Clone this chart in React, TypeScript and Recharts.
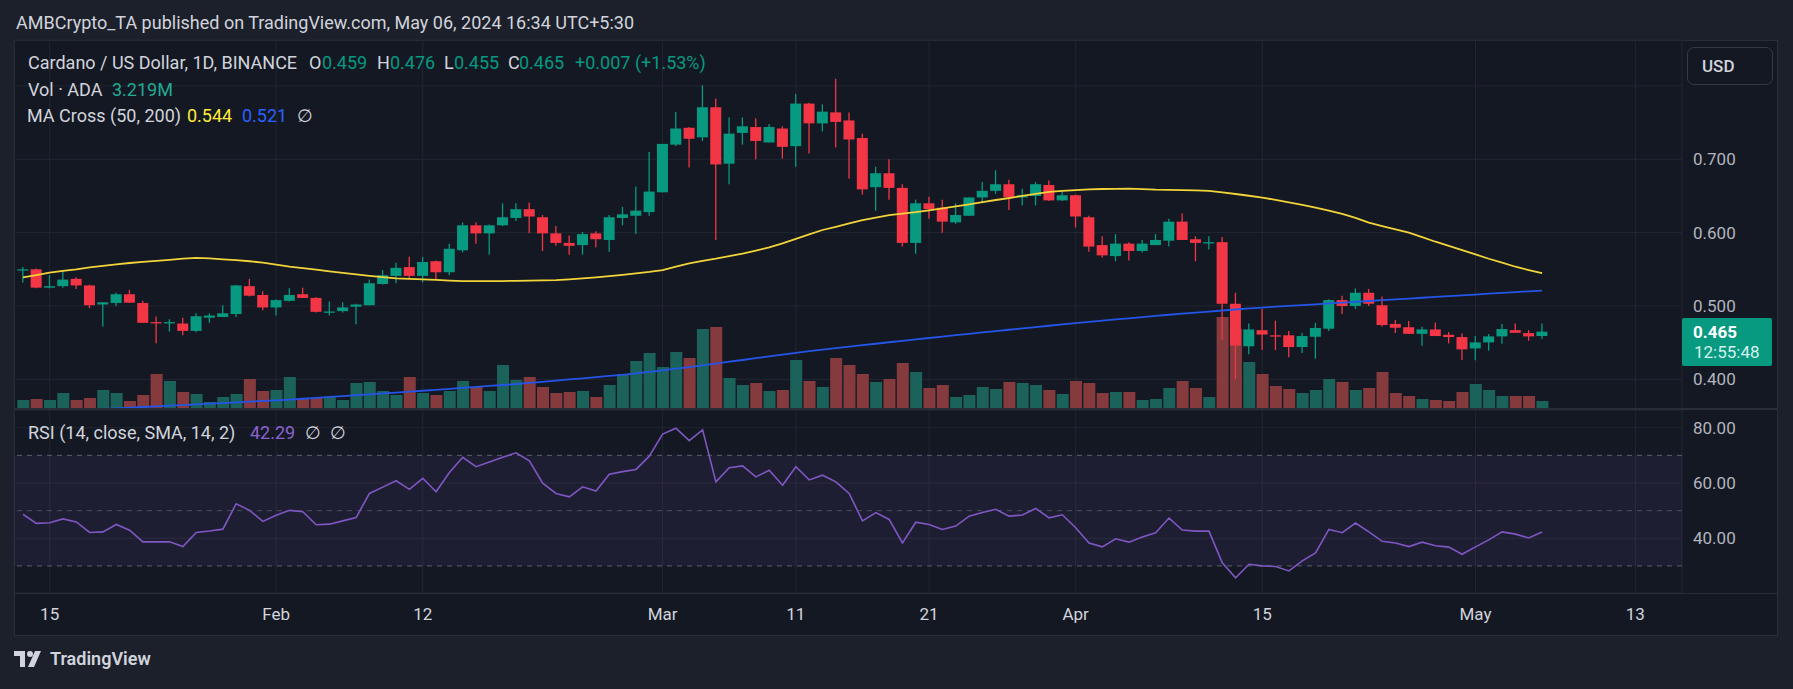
import React from "react";
import {
  ComposedChart,
  Bar,
  Line,
  Cell,
  XAxis,
  YAxis,
  CartesianGrid,
  ReferenceArea,
  ReferenceLine,
} from "recharts";

// ADA/USD daily, Jan 13 .. May 6 2024 (index 0 = Jan 13)
const opens = [
  0.549, 0.55, 0.525, 0.527, 0.537, 0.528, 0.502, 0.504, 0.516, 0.504,
  0.478, 0.477, 0.476, 0.466, 0.484, 0.485, 0.489, 0.527, 0.515, 0.498,
  0.507, 0.516, 0.511, 0.4915, 0.493, 0.499, 0.501, 0.53, 0.541, 0.553,
  0.541, 0.561, 0.546, 0.576, 0.61, 0.599, 0.61, 0.62, 0.632, 0.621,
  0.599, 0.586, 0.583, 0.599, 0.59, 0.62, 0.623, 0.628, 0.655, 0.72,
  0.743, 0.73, 0.771, 0.694, 0.736, 0.744, 0.723, 0.742, 0.718, 0.776,
  0.749, 0.764, 0.753, 0.729, 0.662, 0.681, 0.661, 0.586, 0.64, 0.634,
  0.614, 0.623, 0.648, 0.657, 0.666, 0.648, 0.65, 0.665, 0.644, 0.651,
  0.621, 0.583, 0.568, 0.585, 0.575, 0.583, 0.589, 0.615, 0.591, 0.586,
  0.587, 0.503, 0.445, 0.467, 0.46, 0.46, 0.444, 0.458, 0.469, 0.508,
  0.5, 0.518, 0.501, 0.4755, 0.471, 0.462, 0.468, 0.4607, 0.4576, 0.4421,
  0.4503, 0.4585, 0.467, 0.463, 0.459,
];
const highs = [
  0.553, 0.551, 0.542, 0.549, 0.539, 0.529, 0.505, 0.518, 0.522, 0.507,
  0.4855, 0.482, 0.484, 0.49, 0.49, 0.501, 0.5285, 0.537, 0.52, 0.509,
  0.524, 0.525, 0.512, 0.506, 0.505, 0.503, 0.536, 0.549, 0.559, 0.567,
  0.567, 0.562, 0.585, 0.614, 0.614, 0.611, 0.64, 0.64, 0.641, 0.624,
  0.609, 0.596, 0.601, 0.602, 0.624, 0.635, 0.663, 0.71, 0.721, 0.7645,
  0.744, 0.801, 0.783, 0.757, 0.757, 0.756, 0.748, 0.745, 0.789, 0.777,
  0.775, 0.81, 0.764, 0.735, 0.69, 0.7, 0.666, 0.645, 0.649, 0.645,
  0.64, 0.648, 0.669, 0.685, 0.672, 0.66, 0.669, 0.671, 0.656, 0.652,
  0.623, 0.595, 0.598, 0.587, 0.59, 0.598, 0.619, 0.626, 0.595, 0.595,
  0.594, 0.518, 0.476, 0.496, 0.48, 0.466, 0.463, 0.477, 0.509, 0.514,
  0.524, 0.523, 0.513, 0.4808, 0.4794, 0.4716, 0.4776, 0.4644, 0.4626, 0.459,
  0.4617, 0.4753, 0.4762, 0.467, 0.476,
];
const lows = [
  0.532, 0.524, 0.524, 0.525, 0.523, 0.497, 0.472, 0.5, 0.504, 0.477,
  0.449, 0.465, 0.46, 0.464, 0.477, 0.485, 0.485, 0.513, 0.494, 0.487,
  0.506, 0.511, 0.491, 0.487, 0.491, 0.475, 0.501, 0.529, 0.531, 0.537,
  0.532, 0.536, 0.542, 0.573, 0.585, 0.57, 0.609, 0.616, 0.599, 0.575,
  0.582, 0.57, 0.57, 0.58, 0.574, 0.61, 0.598, 0.623, 0.655, 0.718,
  0.689, 0.725, 0.59, 0.666, 0.72, 0.7, 0.723, 0.701, 0.69, 0.708,
  0.738, 0.716, 0.674, 0.652, 0.63, 0.645, 0.581, 0.571, 0.619, 0.6,
  0.612, 0.623, 0.64, 0.653, 0.631, 0.637, 0.637, 0.643, 0.643, 0.607,
  0.574, 0.566, 0.561, 0.562, 0.573, 0.583, 0.581, 0.59, 0.561, 0.577,
  0.454, 0.4, 0.434, 0.44, 0.44, 0.43, 0.436, 0.428, 0.466, 0.489,
  0.496, 0.5, 0.472, 0.463, 0.462, 0.4457, 0.459, 0.449, 0.4262, 0.426,
  0.439, 0.4485, 0.4634, 0.4525, 0.455,
];
const closes = [
  0.55, 0.525, 0.527, 0.536, 0.528, 0.501, 0.505, 0.516, 0.5045, 0.477,
  0.4775, 0.478, 0.466, 0.486, 0.487, 0.49, 0.528, 0.514, 0.498, 0.508,
  0.515, 0.511, 0.492, 0.4925, 0.498, 0.502, 0.531, 0.542, 0.552, 0.541,
  0.56, 0.546, 0.578, 0.61, 0.599, 0.61, 0.621, 0.632, 0.622, 0.599,
  0.586, 0.582, 0.598, 0.591, 0.621, 0.625, 0.63, 0.656, 0.721, 0.742,
  0.728, 0.771, 0.693, 0.735, 0.745, 0.725, 0.744, 0.717, 0.776, 0.749,
  0.765, 0.751, 0.727, 0.659, 0.681, 0.661, 0.586, 0.64, 0.632, 0.615,
  0.624, 0.648, 0.657, 0.666, 0.648, 0.651, 0.666, 0.644, 0.651, 0.622,
  0.581, 0.569, 0.585, 0.575, 0.585, 0.59, 0.615, 0.59, 0.586, 0.587,
  0.503, 0.446, 0.468, 0.461, 0.459, 0.444, 0.459, 0.47, 0.508, 0.5,
  0.518, 0.503, 0.474, 0.4703, 0.462, 0.468, 0.459, 0.4576, 0.4408, 0.4503,
  0.4585, 0.4685, 0.4634, 0.4585, 0.465,
];
// volume, millions of ADA
const volumes = [
  3.6, 4.0, 3.6, 6.4, 3.6, 4.4, 7.6, 6.4, 3.2, 5.6,
  14.0, 11.2, 6.8, 6.0, 2.8, 4.8, 6.0, 12.0, 7.2, 7.6,
  12.8, 4.0, 4.4, 4.8, 3.6, 10.4, 10.8, 7.2, 5.6, 12.8,
  6.4, 5.6, 7.2, 11.2, 8.8, 7.2, 17.6, 11.6, 12.8, 8.8,
  6.4, 6.8, 7.2, 4.8, 9.6, 14.0, 19.2, 22.4, 16.8, 22.8,
  20.4, 32.0, 32.8, 12.4, 9.6, 10.4, 7.2, 7.6, 19.6, 11.2,
  8.8, 20.4, 17.6, 14.0, 10.8, 12.0, 18.4, 14.8, 8.4, 9.6,
  4.8, 5.6, 8.8, 8.0, 10.8, 10.4, 9.6, 7.6, 6.0, 11.2,
  10.4, 6.4, 6.8, 6.8, 3.6, 4.0, 8.4, 11.2, 8.4, 4.8,
  36.8, 32.0, 18.8, 14.0, 9.2, 8.0, 6.4, 7.6, 12.0, 10.8,
  7.6, 8.4, 14.8, 6.4, 5.2, 4.0, 3.6, 3.2, 6.8, 10.0,
  7.6, 5.2, 5.2, 5.2, 3.219,
];
const ma50 = [
  0.539, 0.542, 0.5455, 0.548, 0.55, 0.5527, 0.5548, 0.5568, 0.5586, 0.56,
  0.5614, 0.563, 0.5645, 0.5655, 0.565, 0.5636, 0.5625, 0.561, 0.559, 0.5564,
  0.5536, 0.5515, 0.5495, 0.5472, 0.545, 0.543, 0.541, 0.5392, 0.5377, 0.537,
  0.5364, 0.5355, 0.5347, 0.534, 0.5338, 0.5338, 0.534, 0.5343, 0.5347, 0.535,
  0.5352, 0.5362, 0.5375, 0.539, 0.5408, 0.5425, 0.5445, 0.5465, 0.549, 0.5535,
  0.558, 0.5615, 0.5645, 0.568, 0.5714, 0.5755, 0.58, 0.5855, 0.5914, 0.5975,
  0.6036, 0.608, 0.6125, 0.617, 0.6205, 0.624, 0.626, 0.628, 0.6305, 0.633,
  0.6358, 0.6386, 0.6415, 0.6445, 0.6472, 0.65, 0.6528, 0.6555, 0.657, 0.658,
  0.659, 0.6595, 0.6598, 0.66, 0.6594, 0.6586, 0.6583, 0.658, 0.6576, 0.657,
  0.655, 0.6527, 0.6503, 0.6477, 0.6447, 0.6414, 0.6378, 0.634, 0.63, 0.6255,
  0.62, 0.6136, 0.609, 0.6045, 0.6, 0.5938, 0.5876, 0.582, 0.5763, 0.5703,
  0.5644, 0.559, 0.5535, 0.549, 0.5449,
];
const ma200 = [
  0.3547, 0.3555, 0.3563, 0.3571, 0.3579, 0.3587, 0.3595, 0.3604, 0.3613, 0.3622,
  0.3631, 0.364, 0.3649, 0.3658, 0.3667, 0.3676, 0.3685, 0.3695, 0.3705, 0.3714,
  0.3724, 0.3735, 0.3747, 0.3759, 0.3771, 0.3783, 0.3795, 0.3807, 0.3819, 0.3831,
  0.3844, 0.3857, 0.387, 0.3883, 0.3896, 0.3909, 0.3922, 0.3935, 0.395, 0.3966,
  0.3982, 0.3998, 0.4014, 0.403, 0.4046, 0.406, 0.408, 0.4101, 0.4123, 0.4145,
  0.4167, 0.419, 0.4215, 0.424, 0.4263, 0.4288, 0.4312, 0.4336, 0.436, 0.4384,
  0.4405, 0.4425, 0.4445, 0.4465, 0.4485, 0.4505, 0.4525, 0.4544, 0.4563, 0.4582,
  0.4601, 0.462, 0.4639, 0.4658, 0.4676, 0.4694, 0.4712, 0.473, 0.4748, 0.4766,
  0.4784, 0.48, 0.4816, 0.4832, 0.4848, 0.4864, 0.488, 0.4895, 0.491, 0.4924,
  0.4938, 0.4952, 0.4966, 0.4978, 0.499, 0.5001, 0.5012, 0.5023, 0.5035, 0.5046,
  0.5057, 0.5068, 0.5079, 0.509, 0.5101, 0.5112, 0.5123, 0.5134, 0.5145, 0.5156,
  0.5167, 0.5178, 0.5189, 0.52, 0.521,
];
const rsi = [
  48.7, 45.4, 45.6, 47.0, 45.9, 42.1, 42.3, 45.0, 42.9, 38.7,
  38.7, 38.7, 37.0, 42.1, 42.6, 43.3, 52.5, 50.1, 46.1, 48.3,
  50.1, 49.6, 44.9, 45.1, 46.3, 47.5, 56.2, 58.5, 60.8, 57.7,
  61.7, 56.8, 63.8, 69.3, 65.9, 67.6, 69.3, 70.9, 68.0, 59.9,
  56.2, 55.0, 58.6, 57.1, 63.2, 64.1, 64.9, 69.7, 77.7, 79.8,
  75.3, 79.2, 60.4, 65.5, 66.2, 62.2, 64.6, 59.2, 65.9, 61.1,
  62.8, 60.4, 56.2, 46.3, 49.3, 46.8, 38.3, 45.8, 45.0, 43.2,
  44.4, 48.0, 49.3, 50.5, 48.0, 48.4, 50.8, 47.4, 48.5, 43.8,
  38.3, 36.9, 39.8, 38.6, 40.5, 42.0, 47.3, 43.0, 42.6, 42.6,
  31.1, 25.7, 30.6, 30.0, 29.8, 28.2, 31.8, 34.7, 43.2, 42.0,
  45.5, 42.3, 38.9, 38.3, 37.0, 38.6, 37.3, 36.8, 34.2, 36.9,
  39.4, 42.3, 41.5, 40.1, 42.29,
];

const tickDays = [2, 19, 30, 48, 58, 68, 79, 93, 109, 121];
const tickLabels = ["15", "Feb", "12", "Mar", "11", "21", "Apr", "15", "May", "13"];
const priceTicks = [0.4, 0.5, 0.6, 0.7, 0.8];
const rsiTicks = [40, 60, 80];

const rows = opens.map((o, i) => ({
  i,
  open: o,
  high: highs[i],
  low: lows[i],
  close: closes[i],
  vol: volumes[i],
  ma50: ma50[i],
  ma200: ma200[i],
  rsi: rsi[i],
}));

const UP = "#089981";
const DOWN = "#f23645";
const BG = "#141823";
const OUTER = "#1c202b";
const TEXT = "#d1d4dc";
const AXIS = "#b2b5be";
const GRID = "#222632";
const FONT = "Roboto, 'Noto Sans', sans-serif";
const X_DOMAIN: [number, number] = [-0.675, 124.5];

const Candle = (props: any) => {
  const { x, y, width, height, payload } = props;
  if (x == null || !payload) return null;
  const top = Math.min(y, y + height);
  const h = Math.abs(height);
  const { open, close, high, low } = payload;
  const span = high - low;
  const py = (v: number) => (span > 0 ? top + ((high - v) / span) * h : top);
  const color = close >= open ? UP : DOWN;
  const bTop = py(Math.max(open, close));
  const bBot = py(Math.min(open, close));
  const cx = x + width / 2;
  return (
    <g>
      <line x1={cx} x2={cx} y1={top} y2={top + h} stroke={color} strokeWidth={1.3} />
      <rect x={x} y={bTop} width={width} height={Math.max(1.3, bBot - bTop)} fill={color} />
    </g>
  );
};

const Txt = ({ x, y, color = TEXT, size = 18, weight = 400, children }: any) => (
  <span
    style={{
      position: "absolute",
      left: x,
      top: y - 11,
      lineHeight: "22px",
      fontSize: size,
      fontWeight: weight,
      color,
      whiteSpace: "pre",
      fontFamily: FONT,
    }}
  >
    {children}
  </span>
);

export default function App() {
  return (
    <div
      style={{
        position: "relative",
        width: 1793,
        height: 689,
        background: OUTER,
        overflow: "hidden",
        fontFamily: FONT,
      }}
    >
      <style>{"body{margin:0}"}</style>
      <Txt x={16} y={23}>AMBCrypto_TA published on TradingView.com, May 06, 2024 16:34 UTC+5:30</Txt>

      {/* chart panel */}
      <div
        style={{
          position: "absolute",
          left: 14,
          top: 40,
          width: 1764,
          height: 596,
          background: BG,
          boxSizing: "border-box",
          border: "1px solid #2a2e39",
        }}
      />

      {/* price pane */}
      <div style={{ position: "absolute", left: 0, top: 0 }}>
        <ComposedChart
          width={1793}
          height={409}
          data={rows}
          margin={{ top: 40, right: 15, bottom: 0, left: 14 }}
        >
          <XAxis xAxisId="p" type="number" dataKey="i" domain={X_DOMAIN} ticks={tickDays} hide allowDataOverflow />
          <XAxis xAxisId="v" type="number" dataKey="i" domain={X_DOMAIN} hide allowDataOverflow />
          <YAxis
            yAxisId="price"
            orientation="right"
            domain={[0.3595, 0.8627]}
            ticks={priceTicks}
            width={96}
            allowDataOverflow
            axisLine={false}
            tickLine={false}
            tickSize={0}
            tickMargin={11}
            tickFormatter={(v: number) => (v > 0.75 ? "" : v.toFixed(3))}
            tick={{ fill: AXIS, fontSize: 17, fontFamily: FONT }}
          />
          <YAxis yAxisId="vol" hide domain={[0, 147.6]} allowDataOverflow />
          <CartesianGrid xAxisId="p" yAxisId="price" stroke={GRID} />
          <Bar xAxisId="v" yAxisId="vol" dataKey="vol" barSize={12} isAnimationActive={false}>
            {rows.map((r) => (
              <Cell key={r.i} fill={r.close >= r.open ? "#1b625b" : "#853a3d"} />
            ))}
          </Bar>
          <Bar
            xAxisId="p"
            yAxisId="price"
            dataKey={(d: any) => [d.low, d.high]}
            barSize={11}
            shape={<Candle />}
            isAnimationActive={false}
          />
          <Line xAxisId="p" yAxisId="price" dataKey="ma200" stroke="#2455e8" strokeWidth={1.8} dot={false} isAnimationActive={false} />
          <Line xAxisId="p" yAxisId="price" dataKey="ma50" stroke="#f2d43a" strokeWidth={1.8} dot={false} isAnimationActive={false} />
        </ComposedChart>
      </div>

      {/* pane divider */}
      <div style={{ position: "absolute", left: 14, top: 408, width: 1764, height: 2, background: "#2a2e39" }} />

      {/* RSI pane + time axis */}
      <div style={{ position: "absolute", left: 0, top: 410 }}>
        <ComposedChart
          width={1793}
          height={226}
          data={rows}
          margin={{ top: 0, right: 15, bottom: 0, left: 14 }}
        >
          <XAxis
            type="number"
            dataKey="i"
            domain={X_DOMAIN}
            ticks={tickDays}
            interval={0}
            allowDataOverflow
            height={43}
            axisLine={false}
            tickLine={false}
            tickSize={0}
            tickMargin={15}
            tickFormatter={(v: number) => tickLabels[tickDays.indexOf(v)] ?? ""}
            tick={{ fill: TEXT, fontSize: 17, fontFamily: FONT }}
          />
          <YAxis
            orientation="right"
            domain={[20.2, 86.4]}
            ticks={rsiTicks}
            width={96}
            allowDataOverflow
            axisLine={false}
            tickLine={false}
            tickSize={0}
            tickMargin={11}
            tickFormatter={(v: number) => v.toFixed(2)}
            tick={{ fill: AXIS, fontSize: 17, fontFamily: FONT }}
          />
          <CartesianGrid stroke={GRID} />
          <ReferenceArea y1={30} y2={70} fill="#7e57c2" fillOpacity={0.1} stroke="none" />
          <ReferenceLine y={70} stroke="#787b86" strokeOpacity={0.7} strokeDasharray="5 5" />
          <ReferenceLine y={50} stroke="#787b86" strokeOpacity={0.5} strokeDasharray="5 5" />
          <ReferenceLine y={30} stroke="#787b86" strokeOpacity={0.7} strokeDasharray="5 5" />
          <Line dataKey="rsi" stroke="#7e57c2" strokeWidth={1.6} dot={false} isAnimationActive={false} />
        </ComposedChart>
      </div>

      {/* time axis separator */}
      <div style={{ position: "absolute", left: 14, top: 593, width: 1764, height: 1, background: "#2a2e39" }} />

      {/* legends */}
      <Txt x={28} y={63}>Cardano / US Dollar, 1D, BINANCE</Txt>
      <Txt x={309} y={63}>O</Txt>
      <Txt x={322} y={63} color={UP}>0.459</Txt>
      <Txt x={377} y={63}>H</Txt>
      <Txt x={390} y={63} color={UP}>0.476</Txt>
      <Txt x={444} y={63}>L</Txt>
      <Txt x={454} y={63} color={UP}>0.455</Txt>
      <Txt x={508} y={63}>C</Txt>
      <Txt x={519} y={63} color={UP}>0.465</Txt>
      <Txt x={575} y={63} color={UP}>+0.007 (+1.53%)</Txt>

      <Txt x={28} y={90}>Vol · ADA</Txt>
      <Txt x={112} y={90} color="#22ab94">3.219M</Txt>

      <Txt x={27} y={116}>MA Cross (50, 200)</Txt>
      <Txt x={187} y={116} color="#ffeb3b">0.544</Txt>
      <Txt x={242} y={116} color="#2962ff">0.521</Txt>
      <Txt x={297} y={116}>∅</Txt>

      <Txt x={28} y={433}>RSI (14, close, SMA, 14, 2)</Txt>
      <Txt x={250} y={433} color="#8a63d2">42.29</Txt>
      <Txt x={305} y={433}>∅  ∅</Txt>

      {/* USD button */}
      <div
        style={{
          position: "absolute",
          left: 1687,
          top: 47,
          width: 86,
          height: 38,
          boxSizing: "border-box",
          border: "1px solid #363a45",
          borderRadius: 7,
          background: BG,
          color: TEXT,
          fontSize: 17,
          fontWeight: 500,
          lineHeight: "36px",
          paddingLeft: 14,
        }}
      >
        USD
      </div>

      {/* last price label */}
      <div
        style={{
          position: "absolute",
          left: 1682,
          top: 318,
          width: 90,
          height: 48,
          background: UP,
          borderRadius: 2,
        }}
      >
        <div style={{ position: "absolute", left: 11, top: 3, fontSize: 17, fontWeight: 700, color: "#ffffff", lineHeight: "22px" }}>
          0.465
        </div>
        <div style={{ position: "absolute", left: 12, top: 23, fontSize: 17, color: "#d6f2ec", lineHeight: "22px" }}>
          12:55:48
        </div>
      </div>

      {/* footer logo */}
      <div style={{ position: "absolute", left: 14, top: 648, display: "flex", alignItems: "center", gap: 6 }}>
        <svg width={30} height={16} viewBox="0 0 30 16">
          <path d="M0 0 H11 V16 H6 V5 H0 Z" fill={TEXT} />
          <circle cx={16} cy={3} r={3} fill={TEXT} />
          <path d="M21 0 H27 L20 16 H14 Z" fill={TEXT} />
        </svg>
        <span style={{ fontSize: 18, fontWeight: 600, color: TEXT, fontFamily: FONT }}>TradingView</span>
      </div>
    </div>
  );
}
